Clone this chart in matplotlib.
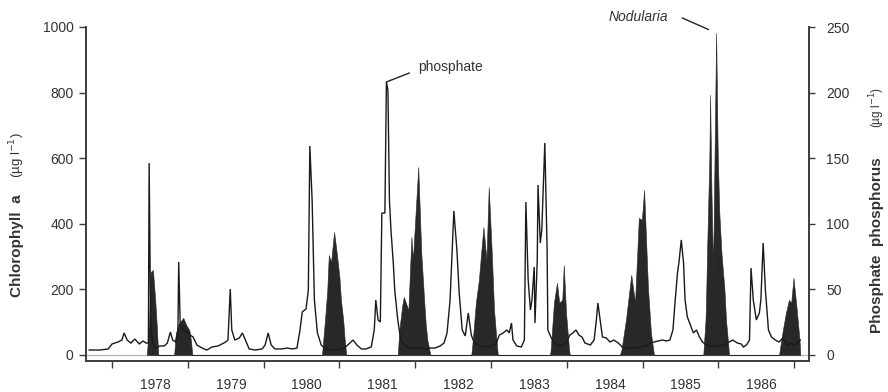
import matplotlib
matplotlib.use("Agg")
import matplotlib.pyplot as plt
from matplotlib.ticker import FixedLocator, FixedFormatter, NullFormatter

plt.rcParams['font.family'] = ['Liberation Sans', 'DejaVu Sans']

# Calendar years shown on the time axis
years = [1978, 1979, 1980, 1981, 1982, 1983, 1984, 1985, 1986]
year_labels = [str(y) for y in years]

# Phosphate phosphorus (µg l-1), sampled through time (decimal years)
phos_year = [1977.70, 1977.84, 1977.95, 1978.00, 1978.08, 1978.13, 1978.16, 1978.20, 1978.25, 1978.30,
             1978.36, 1978.41, 1978.45, 1978.48, 1978.49, 1978.51, 1978.54, 1978.58, 1978.63, 1978.69,
             1978.73, 1978.77, 1978.80, 1978.84, 1978.87, 1978.88, 1978.90, 1978.94, 1978.99, 1979.03,
             1979.07, 1979.12, 1979.19, 1979.25, 1979.32, 1979.40, 1979.45, 1979.50, 1979.53, 1979.56,
             1979.58, 1979.62, 1979.68, 1979.72, 1979.76, 1979.81, 1979.89, 1979.98, 1980.02, 1980.06,
             1980.10, 1980.15, 1980.24, 1980.31, 1980.38, 1980.44, 1980.48, 1980.51, 1980.56, 1980.59,
             1980.61, 1980.64, 1980.67, 1980.71, 1980.76, 1980.82, 1980.88, 1980.94, 1981.01, 1981.06,
             1981.11, 1981.18, 1981.23, 1981.29, 1981.35, 1981.42, 1981.46, 1981.48, 1981.51, 1981.54,
             1981.56, 1981.60, 1981.62, 1981.64, 1981.66, 1981.68, 1981.71, 1981.73, 1981.77, 1981.81,
             1981.87, 1981.93, 1982.00, 1982.06, 1982.13, 1982.20, 1982.26, 1982.33, 1982.38, 1982.42,
             1982.46, 1982.51, 1982.55, 1982.58, 1982.62, 1982.66, 1982.70, 1982.74, 1982.78, 1982.86,
             1982.94, 1983.01, 1983.07, 1983.11, 1983.16, 1983.21, 1983.24, 1983.27, 1983.29, 1983.34,
             1983.40, 1983.44, 1983.46, 1983.49, 1983.52, 1983.54, 1983.57, 1983.58, 1983.61, 1983.62,
             1983.65, 1983.67, 1983.71, 1983.74, 1983.75, 1983.79, 1983.85, 1983.91, 1983.99, 1984.04,
             1984.08, 1984.12, 1984.16, 1984.20, 1984.24, 1984.31, 1984.36, 1984.39, 1984.41, 1984.44,
             1984.47, 1984.52, 1984.57, 1984.62, 1984.68, 1984.73, 1984.81, 1984.89, 1984.97, 1985.05,
             1985.10, 1985.15, 1985.21, 1985.26, 1985.31, 1985.36, 1985.40, 1985.43, 1985.46, 1985.48,
             1985.51, 1985.54, 1985.56, 1985.59, 1985.63, 1985.67, 1985.71, 1985.75, 1985.79, 1985.84,
             1985.92, 1986.00, 1986.08, 1986.14, 1986.19, 1986.25, 1986.30, 1986.33, 1986.37, 1986.41,
             1986.43, 1986.46, 1986.50, 1986.54, 1986.56, 1986.59, 1986.62, 1986.66, 1986.70, 1986.75,
             1986.80, 1986.85, 1986.91, 1986.96, 1987.01, 1987.08]
phos_ugl = [3.8, 3.8, 4.6, 8.4, 9.9, 11.4, 16.8, 11.4, 9.1, 12.2,
            8.4, 10.7, 9.1, 9.1, 146.3, 19.1, 9.1, 5.3, 6.9, 6.9,
            9.1, 17.5, 11.4, 9.9, 19.1, 70.9, 22.9, 19.1, 17.5, 15.2,
            13.7, 7.6, 5.3, 3.8, 6.1, 6.9, 8.4, 9.9, 11.4, 50.3,
            19.1, 11.4, 13.0, 16.8, 11.4, 4.6, 3.8, 4.6, 7.6, 16.8,
            7.6, 4.6, 4.6, 5.3, 4.6, 5.3, 19.1, 32.8, 35.1, 49.5,
            159.3, 118.1, 41.9, 16.8, 7.6, 4.6, 3.8, 3.8, 4.6, 5.3,
            7.6, 11.4, 7.6, 4.6, 4.6, 6.1, 19.1, 41.9, 26.7, 25.2,
            108.2, 108.2, 208.1, 202.0, 118.1, 95.3, 70.9, 49.5, 26.7, 11.4,
            6.9, 5.3, 5.3, 5.3, 4.6, 5.3, 5.3, 6.9, 9.1, 16.8,
            41.9, 109.8, 80.0, 47.3, 19.1, 14.5, 32.0, 15.2, 9.1, 6.9,
            6.1, 6.9, 9.1, 15.2, 16.8, 19.1, 16.8, 24.4, 11.4, 6.9,
            6.1, 11.4, 116.6, 57.2, 34.3, 41.9, 67.1, 24.4, 72.4, 129.6,
            85.4, 95.3, 161.6, 80.0, 19.1, 13.7, 7.6, 6.9, 9.1, 15.2,
            16.8, 19.1, 15.2, 13.7, 9.1, 7.6, 11.4, 26.7, 39.6, 26.7,
            13.7, 13.0, 9.9, 11.4, 9.1, 6.1, 5.3, 5.3, 6.1, 6.9,
            9.1, 9.9, 10.7, 11.4, 10.7, 11.4, 19.1, 41.9, 62.5, 70.9,
            87.7, 70.1, 41.9, 29.0, 22.9, 16.8, 19.1, 13.7, 9.9, 7.6,
            6.9, 6.9, 7.6, 9.9, 11.4, 9.1, 8.4, 6.1, 7.6, 11.4,
            66.3, 41.9, 26.7, 32.0, 41.9, 85.4, 49.5, 19.1, 13.7, 11.4,
            9.9, 13.0, 7.6, 9.1, 7.6, 11.4]

# Chlorophyll a (µg l-1): bloom episodes, zero between them
chl_year = [1978.46, 1978.49, 1978.51, 1978.54, 1978.57, 1978.59, 1978.61,
            1978.82, 1978.84, 1978.87, 1978.90, 1978.94, 1978.98, 1979.02, 1979.04, 1979.06,
            1980.77, 1980.81, 1980.84, 1980.86, 1980.89, 1980.93, 1980.96, 1981.00, 1981.02, 1981.05, 1981.07, 1981.09,
            1981.77, 1981.79, 1981.83, 1981.85, 1981.91, 1981.95, 1981.97, 1982.00, 1982.04, 1982.08, 1982.12, 1982.14, 1982.16, 1982.20,
            1982.74, 1982.76, 1982.80, 1982.84, 1982.87, 1982.90, 1982.94, 1982.97, 1983.01, 1983.04, 1983.08, 1983.09,
            1983.78, 1983.79, 1983.83, 1983.87, 1983.90, 1983.94, 1983.96, 1983.99, 1984.03, 1984.04,
            1984.70, 1984.72, 1984.78, 1984.85, 1984.90, 1984.95, 1984.99, 1985.02, 1985.07, 1985.11, 1985.15,
            1985.80, 1985.83, 1985.84, 1985.85, 1985.88, 1985.89, 1985.91, 1985.93, 1985.95, 1985.97, 1985.99,
            1986.01, 1986.04, 1986.08, 1986.10, 1986.13, 1986.14,
            1986.80, 1986.83, 1986.85, 1986.89, 1986.93, 1986.96, 1986.99, 1987.03, 1987.07, 1987.08]
chl_ugl = [0, 107, 253, 259, 168, 91, 0,
           0, 61, 91, 101, 113, 91, 76, 46, 0,
           0, 107, 198, 305, 283, 375, 320, 238, 168, 107, 46, 0,
           0, 76, 152, 177, 137, 360, 290, 412, 573, 311, 159, 91, 46, 0,
           0, 46, 159, 229, 311, 390, 290, 512, 311, 137, 24, 0,
           0, 24, 159, 220, 159, 168, 274, 128, 15, 0,
           0, 15, 107, 244, 159, 418, 412, 503, 207, 67, 0,
           0, 107, 198, 311, 595, 793, 473, 259, 625, 982, 625,
           442, 311, 198, 107, 30, 0,
           0, 46, 76, 128, 168, 159, 235, 146, 46, 0]

W, H = 888, 392
fig = plt.figure(figsize=(W / 100, H / 100), dpi=100)
ax = fig.add_axes([86 / W, 1 - 361 / H, (809 - 86) / W, (361 - 27) / H])
ax2 = ax.twinx()

ax.set_xlim(1977.657, 1987.195)
ax.set_ylim(-18.3, 1000)
ax2.set_ylim(-4.575, 250)

spine_col = '#3c3c3c'
text_col = '#333333'

# zero reference and chlorophyll blooms (left scale)
ax.axhline(0, color='#b8b8b8', lw=1.0, zorder=1)
ax.fill_between(chl_year, 0, chl_ugl, facecolor='#282828', edgecolor='#282828',
                lw=0.4, zorder=2)

# phosphate trace (right scale)
ax2.plot(phos_year, phos_ugl, color='#1a1a1a', lw=1.0, solid_joinstyle='miter')

# spines
for s in ('top', 'right'):
    ax.spines[s].set_visible(False)
for s in ('top', 'left', 'bottom'):
    ax2.spines[s].set_visible(False)
for sp in (ax.spines['left'], ax.spines['bottom'], ax2.spines['right']):
    sp.set_linewidth(1.4)
    sp.set_color(spine_col)

# left axis ticks
ax.set_yticks([0, 200, 400, 600, 800, 1000])
ax.tick_params(axis='y', direction='out', length=5, width=1, color=spine_col,
               labelcolor=text_col, labelsize=10, pad=4)

# x axis: year boundaries as ticks, year names between them
ax.xaxis.set_major_locator(FixedLocator(list(range(years[0], years[-1] + 2))))
ax.xaxis.set_major_formatter(NullFormatter())
ax.xaxis.set_minor_locator(FixedLocator([y + 0.57 for y in years]))
ax.xaxis.set_minor_formatter(FixedFormatter(year_labels))
ax.tick_params(axis='x', which='major', direction='out', length=5, width=1, color=spine_col)
ax.tick_params(axis='x', which='minor', length=0, pad=12, labelsize=10, labelcolor=text_col)

# right axis ticks
ax2.set_yticks([0, 50, 100, 150, 200, 250])
ax2.tick_params(axis='y', direction='out', length=4, width=1, color=spine_col,
                labelcolor=text_col, labelsize=10, pad=8.5)

# axis titles
fig.text(17 / W, 1 - 297 / H, 'Chlorophyll  a', rotation=90, ha='center', va='bottom',
         fontsize=11, fontweight='bold', color=text_col)
fig.text(17 / W, 1 - 178 / H, '(µg l$^{-1}$)', rotation=90, ha='center', va='bottom',
         fontsize=9.5, color=text_col)
fig.text(877 / W, 1 - 333 / H, 'Phosphate  phosphorus', rotation=90, ha='center', va='bottom',
         fontsize=11, fontweight='bold', color=text_col)
fig.text(877 / W, 1 - 128 / H, '(µg l$^{-1}$)', rotation=90, ha='center', va='bottom',
         fontsize=8.5, color=text_col)

# annotations
ip = max(range(len(phos_ugl)), key=lambda i: phos_ugl[i])
ax2.annotate('', xy=(phos_year[ip], phos_ugl[ip]), xytext=(23, 9), textcoords='offset pixels',
             arrowprops=dict(arrowstyle='-', color='#222222', lw=1.0, shrinkA=0, shrinkB=0))
ax2.annotate('phosphate', xy=(phos_year[ip], phos_ugl[ip]), xytext=(32, 15),
             textcoords='offset pixels', ha='left', va='center', fontsize=10, color=text_col)

ic = max(range(len(chl_ugl)), key=lambda i: chl_ugl[i])
ax.annotate('', xy=(chl_year[ic], chl_ugl[ic]), xytext=(-34, 15), textcoords='offset pixels',
            arrowprops=dict(arrowstyle='-', color='#222222', lw=1.0, shrinkA=0, shrinkB=6))
ax.annotate('Nodularia', xy=(chl_year[ic], chl_ugl[ic]), xytext=(-48, 16),
            textcoords='offset pixels', ha='right', va='center', fontsize=10,
            fontstyle='italic', color=text_col, annotation_clip=False)

fig.savefig('out.png', dpi=100)
